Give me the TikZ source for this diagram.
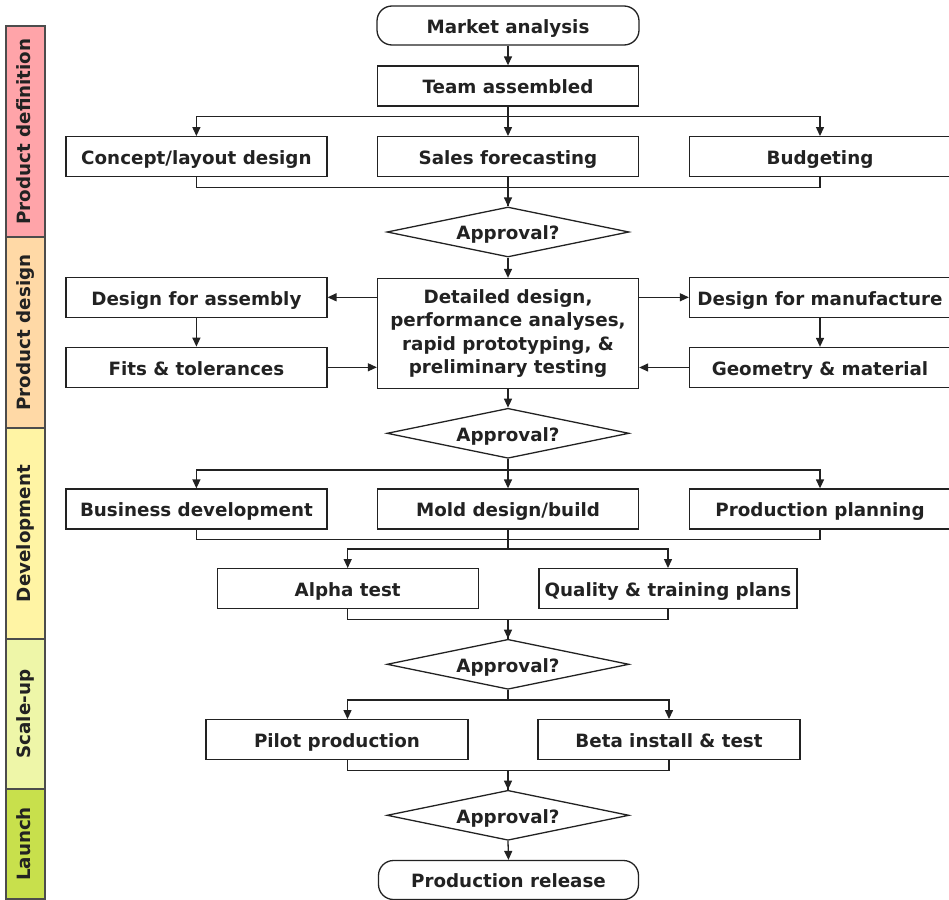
\documentclass[tikz,border=0pt]{standalone}
\usepackage{fontspec}
\setmainfont{DejaVu Sans}
\usetikzlibrary{shapes.geometric, arrows.meta}
\definecolor{inkgray}{HTML}{222222}
\definecolor{defred}{HTML}{FFA4A9}
\definecolor{designpeach}{HTML}{FFD9A6}
\definecolor{devyellow}{HTML}{FFF4A4}
\definecolor{scalelime}{HTML}{EEF6A8}
\definecolor{launchgreen}{HTML}{C8E04C}
\tikzset{
	flowbox/.style={draw=inkgray, line width=1.3bp, rectangle, minimum width=261bp, minimum height=40bp, inner sep=0pt, text=inkgray, text height=16bp, text depth=0.5bp},
	terminal/.style={rounded corners=15bp},
	decision/.style={draw=inkgray, line width=1.3bp, diamond, aspect=4.8, minimum width=242bp, minimum height=50bp, inner sep=0pt, text=inkgray, text height=16bp, text depth=0.5bp},
	phase/.style={draw=black!70, line width=1.3bp, minimum height=39bp, inner sep=0pt, rotate=90, text=inkgray, text height=13.5bp, text depth=3.5bp},
	wire/.style={draw=inkgray, line width=1.3bp},
	arr/.style={-{Triangle[length=9bp, width=8bp]}}
}
\newcommand{\flowBox}[5][]{
	\path (#2,#3) node[flowbox, #1](#4){#5};
}
\newcommand{\phaseBar}[5][]{
	\path (25.5,#2) node[phase, minimum width=#3bp, #1](#4){#5};
}
\newcommand{\flowEdge}[3][]{
	\draw[wire, arr, #1] (#2) -- (#3);
}
\newcommand{\flowElbow}[4][]{
	\draw[wire, #1] (#2) -- ++(0,#3) -| (#4);
}

\begin{document}
\begin{tikzpicture}[x=1bp, y=-1bp, every node/.style={font=\fontsize{18.3bp}{23.5bp}\selectfont\bfseries}]
	\useasboundingbox (0,0) rectangle (949,900);

	\phaseBar[fill=defred]{131.5}{211}{pdef}{Product definition};
	\phaseBar[fill=designpeach]{332.5}{191}{pdes}{Product design};
	\phaseBar[fill=devyellow]{533.5}{211}{pdev}{Development};
	\phaseBar[fill=scalelime]{714}{150}{pscale}{Scale-up};
	\phaseBar[fill=launchgreen]{844}{110}{plaunch}{Launch};

	\flowBox[terminal, minimum width=262bp, minimum height=39bp]{508}{25.5}{market}{Market analysis};
	\flowBox{508}{86}{team}{Team assembled};
	\flowBox{196.4}{156.7}{concept}{Concept/layout design};
	\flowBox{508}{156.7}{sales}{Sales forecasting};
	\flowBox{820}{156.7}{budget}{Budgeting};
	\path (508,232) node[decision](approvalA){Approval?};

	\flowBox{196.4}{297.3}{dfa}{Design for assembly};
	\flowBox[minimum height=110bp, align=center, text height={}, text depth={}]{508}{333.5}{detail}{Detailed design,\\performance analyses,\\rapid prototyping, \&\\preliminary testing};
	\flowBox{820}{297.3}{dfm}{Design for manufacture};
	\flowBox{196.4}{367.3}{fits}{Fits \& tolerances};
	\flowBox{820}{367.5}{geom}{Geometry \& material};
	\path (508,433.3) node[decision](approvalB){Approval?};

	\flowBox{196.4}{509}{bizdev}{Business development};
	\flowBox{508}{509}{mold}{Mold design/build};
	\flowBox{820}{509}{prodplan}{Production planning};
	\flowBox{347.7}{588.7}{alpha}{Alpha test};
	\flowBox[minimum width=258bp]{668}{588.7}{quality}{Quality \& training plans};
	\path (508,664.3) node[decision](approvalC){Approval?};

	\flowBox[minimum width=262bp]{337}{739.7}{pilot}{Pilot production};
	\flowBox[minimum width=262bp]{669}{739.7}{beta}{Beta install \& test};
	\path (508,815.3) node[decision](approvalD){Approval?};
	\flowBox[terminal, minimum width=260bp, minimum height=39bp]{508.5}{880}{release}{Production release};

	% definition
	\flowEdge{market.south}{team.north};
	\flowElbow[arr]{team.south}{10}{concept.north};
	\flowEdge{team.south}{sales.north};
	\flowElbow[arr]{team.south}{10}{budget.north};
	\flowElbow{concept.south}{10}{approvalA.north};
	\flowElbow{budget.south}{10}{approvalA.north};
	\flowEdge{sales.south}{approvalA.north};

	% design
	\flowEdge{approvalA.south}{detail.north};
	\flowEdge{dfa.east -| detail.west}{dfa.east};
	\flowEdge{dfm.west -| detail.east}{dfm.west};
	\flowEdge{dfa.south}{fits.north};
	\flowEdge[xshift=10bp]{dfm.south}{geom.north};
	\flowEdge{fits.east}{fits.east -| detail.west};
	\flowEdge{geom.west}{geom.west -| detail.east};
	\flowEdge{detail.south}{approvalB.north};

	% development
	\flowElbow[arr]{approvalB.south}{11}{bizdev.north};
	\flowEdge{approvalB.south}{mold.north};
	\flowElbow[arr]{approvalB.south}{11}{prodplan.north};
	\path (mold.south) ++(0,19.3) coordinate (split);
	\flowElbow{bizdev.south}{9.7}{split};
	\flowElbow{prodplan.south}{9.7}{split};
	\draw[wire] (mold.south) -- (split);
	\draw[wire, arr] (split) -| (alpha.north);
	\draw[wire, arr] (split) -| (quality.north);
	\flowElbow{alpha.south}{10.3}{approvalC.north};
	\flowElbow[arr]{quality.south}{10.3}{approvalC.north};

	% scale-up and launch
	\flowElbow[arr]{approvalC.south}{10}{[xshift=10.5bp]pilot.north};
	\flowElbow[arr]{approvalC.south}{10}{beta.north};
	\flowElbow{[xshift=10.5bp]pilot.south}{10}{approvalD.north};
	\flowElbow[arr]{beta.south}{10}{approvalD.north};
	\flowEdge{approvalD.south}{release.north};
\end{tikzpicture}
\end{document}
